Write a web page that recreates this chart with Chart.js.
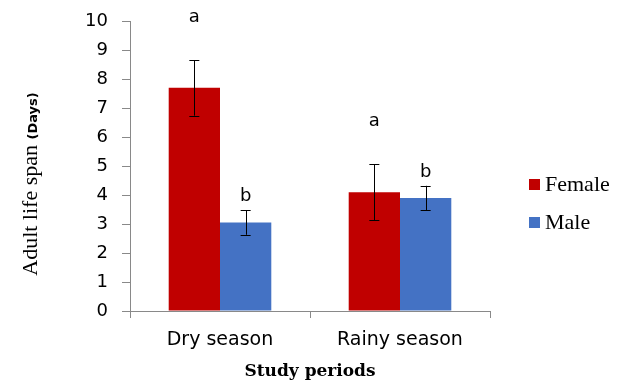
<!DOCTYPE html>
<html>
<head>
<meta charset="utf-8">
<script src="https://cdn.jsdelivr.net/npm/chart.js@4.4.0/dist/chart.umd.min.js"></script>
<style>
  html, body { margin: 0; padding: 0; background: #fff; }
  #wrap { width: 621px; height: 386px; }
</style>
</head>
<body>
<div id="wrap"><canvas id="chart" width="621" height="386"></canvas></div>
<script>
// values
const periods = ["Dry season", "Rainy season"];
const femaleMean = [7.7, 4.1];
const femaleErr = [0.96, 0.97];
const maleMean = [3.05, 3.9];
const maleErr = [0.42, 0.42];
const femaleLetters = ["a", "a"];
const maleLetters = ["b", "b"];
const yTicks = [0, 1, 2, 3, 4, 5, 6, 7, 8, 9, 10];

const axisColor = "#898989";

// error bars + significance letters
const errorBars = {
    id: "errorBars",
    afterDatasetsDraw(chart) {
        const ctx = chart.ctx;
        const y = chart.scales.y;
        ctx.save();
        chart.data.datasets.forEach((ds, di) => {
            const meta = chart.getDatasetMeta(di);
            meta.data.forEach((bar, i) => {
                const v = ds.data[i], e = ds.errors[i];
                const top = y.getPixelForValue(v + e);
                const bot = y.getPixelForValue(v - e);
                ctx.strokeStyle = "#000";
                ctx.lineWidth = 1;
                ctx.beginPath();
                ctx.moveTo(Math.round(bar.x) + 0.5, top);
                ctx.lineTo(Math.round(bar.x) + 0.5, bot);
                ctx.moveTo(bar.x - 5, Math.round(top) + 0.5);
                ctx.lineTo(bar.x + 5, Math.round(top) + 0.5);
                ctx.moveTo(bar.x - 5, Math.round(bot) + 0.5);
                ctx.lineTo(bar.x + 5, Math.round(bot) + 0.5);
                ctx.stroke();

                ctx.fillStyle = "#000";
                ctx.font = "18px 'DejaVu Sans'";
                ctx.textAlign = "center";
                ctx.textBaseline = "alphabetic";
                ctx.fillText(ds.letters[i], bar.x, top - ds.letterGap);
            });
        });
        ctx.restore();
    }
};

// y title with the smaller "(Days)" part, and the side legend
const extras = {
    id: "extras",
    afterDraw(chart) {
        const ctx = chart.ctx;
        ctx.save();

        const part1 = "Adult life span ";
        const part2 = "(Days)";
        const f1 = "22px 'Liberation Serif'";
        const f2 = "bold 13px 'DejaVu Sans'";
        ctx.font = f1;
        const w1 = ctx.measureText(part1).width;
        ctx.font = f2;
        const w2 = ctx.measureText(part2).width;
        ctx.translate(37, 184);
        ctx.rotate(-Math.PI / 2);
        ctx.fillStyle = "#000";
        ctx.textBaseline = "alphabetic";
        ctx.textAlign = "left";
        const start = -(w1 + w2) / 2;
        ctx.font = f1;
        ctx.fillText(part1, start, 0);
        ctx.font = f2;
        ctx.fillText(part2, start + w1, 0);
        ctx.setTransform(1, 0, 0, 1, 0, 0);

        chart.data.datasets.forEach((ds, i) => {
            const top = 179 + i * 38;
            ctx.fillStyle = ds.backgroundColor;
            ctx.fillRect(529, top, 11, 11);
            ctx.fillStyle = "#000";
            ctx.font = "22px 'Liberation Serif'";
            ctx.textBaseline = "middle";
            ctx.textAlign = "left";
            ctx.fillText(ds.label, 545, top + 6);
        });
        ctx.restore();
    }
};

new Chart(document.getElementById("chart"), {
    type: "bar",
    data: {
        labels: periods,
        datasets: [
            {
                label: "Female",
                data: femaleMean,
                errors: femaleErr,
                letters: femaleLetters,
                letterGap: 38,
                backgroundColor: "#C00000",
                categoryPercentage: 0.57,
                barPercentage: 1
            },
            {
                label: "Male",
                data: maleMean,
                errors: maleErr,
                letters: maleLetters,
                letterGap: 9,
                backgroundColor: "#4472C4",
                categoryPercentage: 0.57,
                barPercentage: 1
            }
        ]
    },
    options: {
        responsive: false,
        animation: false,
        layout: { padding: { top: 20, right: 131, left: 0, bottom: 0 } },
        plugins: {
            legend: { display: false },
            tooltip: { enabled: false }
        },
        scales: {
            x: {
                afterFit(scale) { scale.height = 75; },
                grid: { drawOnChartArea: false, tickLength: 7, color: axisColor },
                border: { color: axisColor },
                ticks: { color: "#000", padding: 11, font: { family: "DejaVu Sans", size: 19 } },
                title: {
                    display: true,
                    text: "Study periods",
                    color: "#000",
                    padding: { top: 0, bottom: 4 },
                    font: { family: "DejaVu Serif", size: 17, weight: "bold" }
                }
            },
            y: {
                min: 0,
                max: 10,
                afterFit(scale) { scale.width = 130; },
                afterBuildTicks(scale) { scale.ticks = yTicks.map(v => ({ value: v })); },
                grid: { drawOnChartArea: false, tickLength: 8, color: axisColor },
                border: { color: axisColor },
                ticks: { color: "#000", padding: 14, font: { family: "DejaVu Sans", size: 18, lineHeight: 0.8 } }
            }
        }
    },
    plugins: [errorBars, extras]
});
</script>
</body>
</html>
